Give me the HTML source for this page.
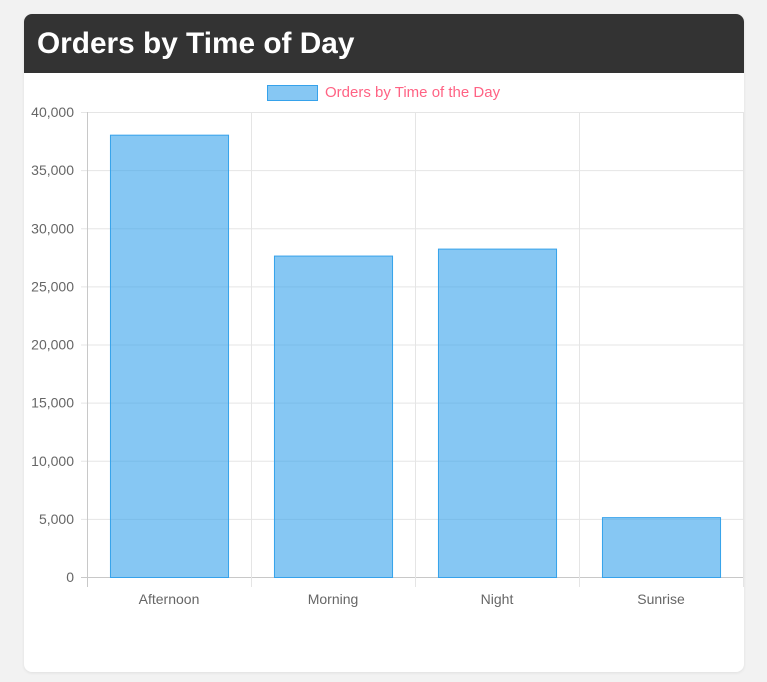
<!DOCTYPE html>
<html><head><meta charset="utf-8"><style>
html,body{margin:0;padding:0;background:#f2f2f2;width:767px;height:682px;overflow:hidden;font-family:"Liberation Sans",Arial,sans-serif}
.card{position:absolute;left:24px;top:14px;width:720px;height:658px;background:#fff;border-radius:8px;overflow:hidden;box-shadow:0 1px 3px rgba(0,0,0,0.08)}
.hdr{height:59px;background:#333;color:#fff;font-weight:bold;font-size:29.8px;line-height:59px;padding-left:13px}
svg{position:absolute;left:0;top:0}
</style></head><body>
<div class="card"><div class="hdr">Orders by Time of Day</div></div>
<svg id="c" width="767" height="682"></svg>
<script>
const categories=["Afternoon","Morning","Night","Sunrise"];
const values=[38050,27650,28250,5150];
const yTicks=[0,5000,10000,15000,20000,25000,30000,35000,40000];
const yMax=40000;
const L=87,R=743,T=112,B=577;
const svg=document.getElementById('c');const NS='http://www.w3.org/2000/svg';
function y(v){return B-(v/yMax)*(B-T);}
const bw=(R-L)/categories.length;
function x(i){return L+i*bw;}
function mk(t,a,txt){const e=document.createElementNS(NS,t);for(const k in a)e.setAttribute(k,a[k]);if(txt!=null)e.textContent=txt;svg.appendChild(e);return e;}
yTicks.forEach(v=>{
 const g=mk('line',{x1:L-6,x2:R,y1:y(v)+0.5,y2:y(v)+0.5,stroke:v===0?'#c8c8c8':'#e5e5e5'});
 
 const t=mk('text',{x:L-13,y:y(v)+5,'text-anchor':'end','font-size':14,fill:'#666'},v.toLocaleString('en-US'));
 
});
for(let i=0;i<=categories.length;i++){
 const g=mk('line',{x1:x(i)+0.5,x2:x(i)+0.5,y1:T,y2:B+10,stroke:i===0?'#c8c8c8':'#e5e5e5'});
 
}
categories.forEach((c,i)=>{
 const w=bw*0.72,bx=x(i)+(bw-w)/2;
 const r=mk('rect',{x:bx+0.5,y:y(values[i])+0.5,width:w,height:B-y(values[i]),fill:'rgba(54,162,235,0.6)',stroke:'#36a2eb','stroke-width':1});
 
 const t=mk('text',{x:x(i)+bw/2,y:B+27,'text-anchor':'middle','font-size':14,fill:'#666'},c);
 
});
const lb=mk('rect',{x:267.5,y:85.5,width:50,height:15,fill:'rgba(54,162,235,0.6)',stroke:'#36a2eb'});

const lt=mk('text',{x:325,y:97,'font-size':15,fill:'#ff6384'},'Orders by Time of the Day');

</script>
</body></html>
